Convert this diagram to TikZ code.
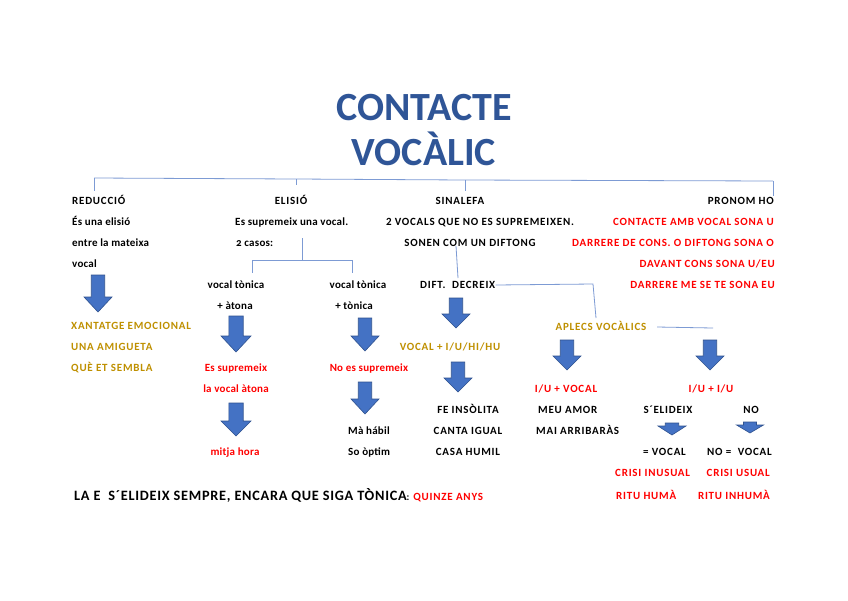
\documentclass[tikz,border=0pt]{standalone}
\usepackage{fontspec}
\setmainfont{Carlito}
\newfontfamily\bodyfont{Carlito}[LetterSpace=7]
\newfontfamily\lcfont{Carlito}[LetterSpace=2]
\newfontfamily\botfont{Carlito}[LetterSpace=5]
\definecolor{titlec}{RGB}{47,85,151}
\definecolor{gold}{RGB}{191,144,0}
\definecolor{redc}{RGB}{255,0,0}
\definecolor{linec}{RGB}{125,155,212}
\definecolor{arrfill}{RGB}{68,114,196}
\definecolor{arrdraw}{RGB}{47,82,143}
\tikzset{pics/darr/.style n args={3}{code={%
  \path[arr] (-0.48*#3,0) -- (0.48*#3,0) -- (0.48*#3,#1-#2) -- (#3,#1-#2) -- (0,#1) -- (-#3,#1-#2) -- (-0.48*#3,#1-#2) -- cycle;}}}
\begin{document}
\begin{tikzpicture}[x=1pt,y=-1pt,
  t/.style={font=\bodyfont\fontsize{11}{12}\selectfont\bfseries, inner sep=0pt, text height=7pt, text depth=0pt},
  lc/.style={font=\lcfont\fontsize{11}{12}\selectfont\bfseries},
  blk/.style={t, text=black},
  gld/.style={t, text=gold},
  rd/.style={t, text=redc},
  ttl/.style={font=\fontsize{40}{44}\selectfont\bfseries, text=titlec, inner sep=0pt, text height=25.8pt, text depth=0pt},
  conn/.style={draw=linec, line width=0.8pt},
  arr/.style={fill=arrfill, draw=arrdraw, line width=0.6pt, line join=miter}]
\useasboundingbox (0,0) rectangle (848,600);
\fill[white] (0,0) rectangle (848,600);
% title
\node[ttl] (title1) at (424,108) {CONTACTE};
\node[ttl] (title2) at (424,153) {VOCÀLIC};
% top branches
\coordinate (hL) at (94,178);
\coordinate (hE) at (296,179);
\coordinate (hS) at (465,180);
\coordinate (hR) at (773,181);
\draw[conn] (hL) -- (hE) -- (hS) -- (hR);
\draw[conn] (hL) -- ++(0,13);
\draw[conn] (hE) -- ++(0,6);
\draw[conn] (hS) -- ++(0,11);
\draw[conn] (hR) -- ++(0,15);
% REDUCCIO column
\node[blk, anchor=west] (red1) at (72,201) {REDUCCIÓ};
\node[blk, lc, anchor=west] (red2) at (72,222) {És una elisió};
\node[blk, lc, anchor=west] (red3) at (72,243) {entre la mateixa};
\node[blk, lc, anchor=west] (red4) at (72,264) {vocal};
\pic at (98,275) {darr={37}{15}{14}};
\node[gld, anchor=west] (red5) at (71,326) {XANTATGE EMOCIONAL};
\node[gld, anchor=west] (red6) at (71,347) {UNA AMIGUETA};
\node[gld, anchor=west] (red7) at (71,368) {QUÈ ET SEMBLA};
% ELISIO column
\node[blk] (eli1) at (291,201) {ELISIÓ};
\node[blk, lc, anchor=west] (eli2) at (235,222) {Es supremeix una vocal.};
\node[blk, lc, anchor=west] (eli3) at (236,243) {{\addfontfeatures{Numbers=OldStyle}2} casos:};
\coordinate (eA) at (302,238);
\coordinate (eB) at (302,260);
\coordinate (eL) at (252,260);
\coordinate (eR) at (352,260);
\draw[conn] (eA) -- (eB);
\draw[conn] (eL) -- (eR);
\draw[conn] (eL) -- ++(0,13);
\draw[conn] (eR) -- ++(0,13);
\node[blk, lc] (ea1) at (236,285) {vocal tònica};
\node[blk, lc] (ea2) at (235,306) {+ àtona};
\pic at (236,316) {darr={36}{16}{15}};
\node[rd, lc] (ea3) at (236,368) {Es supremeix};
\node[rd, lc] (ea4) at (236,389) {la vocal àtona};
\pic at (236,403) {darr={33}{15}{15}};
\node[rd, lc] (ea5) at (235,452) {mitja hora};
\node[blk, lc] (et1) at (358,285) {vocal tònica};
\node[blk, lc] (et2) at (354,306) {+ tònica};
\pic at (365,318) {darr={33}{15}{14}};
\node[rd, lc] (et3) at (369,368) {No es supremeix};
\pic at (365,382) {darr={32}{15}{14}};
\node[blk, lc, anchor=west] (et4) at (348,431) {Mà hábil};
\node[blk, lc, anchor=west] (et5) at (348,452) {So òptim};
% SINALEFA column
\node[blk] (sin1) at (460,201) {SINALEFA};
\node[blk] (sin2) at (480,222) {2 VOCALS QUE NO ES SUPREMEIXEN.};
\node[blk] (sin3) at (470,243) {SONEN COM UN DIFTONG};
\node[blk, anchor=west] (dif) at (420,285) {DIFT.\ \ DECREIX};
\node[gld] (apl) at (601,327) {APLECS VOCÀLICS};
\coordinate (sA) at (456,246);
\coordinate (sB) at (458,278);
\draw[conn] (sA) -- (sB);
\coordinate (dC) at (593,284);
\coordinate (dD) at (596,318);
\draw[conn] (dif.east) -- (dC) -- (dD);
\pic at (456,298) {darr={30}{14}{14}};
\node[gld] (dif2) at (450,347) {VOCAL + I/U/HI/HU};
\pic at (458,362) {darr={30}{14}{14}};
\node[blk] (dif3) at (468,410) {FE INSÒLITA};
\node[blk] (dif4) at (468,431) {CANTA IGUAL};
\node[blk] (dif5) at (468,452) {CASA HUMIL};
% APLECS
\coordinate (aL) at (657,327);
\coordinate (aR) at (713,328);
\draw[conn] (aL) -- (aR);
\pic at (567,340) {darr={30}{14}{14}};
\node[rd] (ap1) at (566,389) {I/U + VOCAL};
\node[blk, anchor=west] (ap2) at (538,410) {MEU AMOR};
\node[blk, anchor=west] (ap3) at (536,431) {MAI ARRIBARÀS};
\pic at (710,340) {darr={30}{14}{14}};
\node[rd] (aq1) at (711,389) {I/U + I/U};
\node[blk] (aq2) at (668,410) {S´ELIDEIX};
\node[blk] (aq3) at (751,410) {NO};
\pic at (672,423) {darr={12}{9}{14}};
\pic at (750,422) {darr={11}{8}{13.5}};
\node[blk, anchor=west] (aq4) at (643,452) {= VOCAL};
\node[blk, anchor=east] (aq5) at (772,452) {NO =\ \ VOCAL};
\node[rd, anchor=west] (aq6) at (615,473) {CRISI INUSUAL};
\node[rd, anchor=east] (aq7) at (770,473) {CRISI USUAL};
\node[rd, anchor=west] (aq8) at (616,496) {RITU HUMÀ};
\node[rd, anchor=east] (aq9) at (770,496) {RITU INHUMÀ};
% PRONOM HO
\node[blk, anchor=east] (pr1) at (774,201) {PRONOM HO};
\node[rd, anchor=east] (pr2) at (774,222) {CONTACTE AMB VOCAL SONA U};
\node[rd, anchor=east] (pr3) at (774,243) {DARRERE DE CONS. O DIFTONG SONA O};
\node[rd, anchor=east] (pr4) at (775,264) {DAVANT CONS SONA U/EU};
\node[rd, anchor=east] (pr5) at (775,285) {DARRERE ME SE TE SONA EU};
% bottom
\node[anchor=west, inner sep=0pt, text height=9pt, text depth=0pt, font=\botfont\fontsize{14.3}{16}\selectfont\bfseries] (bot) at (74,496) {LA E\ \ S´ELIDEIX SEMPRE, ENCARA QUE SIGA TÒNICA{\fontsize{10}{12}\selectfont:} \textcolor{redc}{\bodyfont\fontsize{11}{12}\selectfont\bfseries QUINZE ANYS}};
\end{tikzpicture}
\end{document}
